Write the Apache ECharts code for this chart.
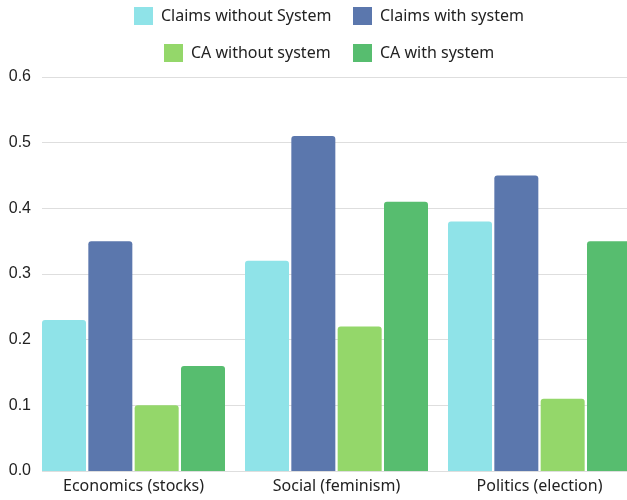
<!DOCTYPE html>
<html><head><meta charset="utf-8">
<script src="https://cdn.jsdelivr.net/npm/echarts@6/dist/echarts.min.js"></script>
<style>html,body{margin:0;padding:0;background:#fff;overflow:hidden;width:627px;height:500px}#c{width:660px;height:500px}</style>
</head><body><div id="c"></div>
<script>
const categories = ['Economics (stocks)', 'Social (feminism)', 'Politics (election)'];
const seriesNames = ['Claims without System', 'Claims with system', 'CA without system', 'CA with system'];
const claimsWithout = [0.23, 0.32, 0.38];
const claimsWith = [0.35, 0.51, 0.45];
const caWithout = [0.10, 0.22, 0.11];
const caWith = [0.16, 0.41, 0.35];
const yTicks = [0, 0.1, 0.2, 0.3, 0.4, 0.5, 0.6];

const colors = ['#8fe3e8', '#5b77ad', '#94d76a', '#57bd6f'];
const values = [claimsWithout, claimsWith, caWithout, caWith];
const FONT = 'Noto Sans';

const legendPos = [[134, 7], [353, 7], [164, 44], [353, 44]];
const chart = echarts.init(document.getElementById('c'), null, {renderer: 'canvas'});
chart.setOption({
  animation: false,
  color: colors,
  legend: seriesNames.map((n, i) => ({
    data: [n], left: legendPos[i][0], top: legendPos[i][1], padding: 0,
    itemWidth: 19, itemHeight: 18, icon: 'rect',
    textStyle: {fontFamily: FONT, fontSize: 16, color: '#222', lineHeight: 18, padding: [0, 0, 0, 3]}
  })),
  grid: [
    {left: 32, width: 609, top: 77, bottom: 29},
    {left: 42, right: 0, top: 77, bottom: 29}
  ],
  xAxis: [
    {type: 'category', gridIndex: 0, data: categories,
     axisLine: {show: false}, axisTick: {show: false},
     axisLabel: {fontFamily: FONT, fontSize: 16, color: '#222', margin: 7, interval: 0}},
    {type: 'category', gridIndex: 1, data: categories, show: false}
  ],
  yAxis: [
    {type: 'value', gridIndex: 0, min: 0, max: 0.6, interval: 0.1, show: false},
    {type: 'value', gridIndex: 1, min: 0, max: 0.6, interval: 0.1,
     axisLine: {show: false}, axisTick: {show: false},
     splitLine: {lineStyle: {color: '#dedede', width: 1}},
     axisLabel: {fontFamily: 'Liberation Sans', fontSize: 16, color: '#222', margin: 11,
                 formatter: v => v.toFixed(1)}}
  ],
  series: seriesNames.map((n, i) => ({
    name: n, type: 'bar', xAxisIndex: 0, yAxisIndex: 0,
    data: values[i], barGap: '5.3%', barCategoryGap: '9.85%',
    itemStyle: {color: colors[i], borderRadius: [3, 3, 0, 0]}
  }))
});
</script></body></html>
